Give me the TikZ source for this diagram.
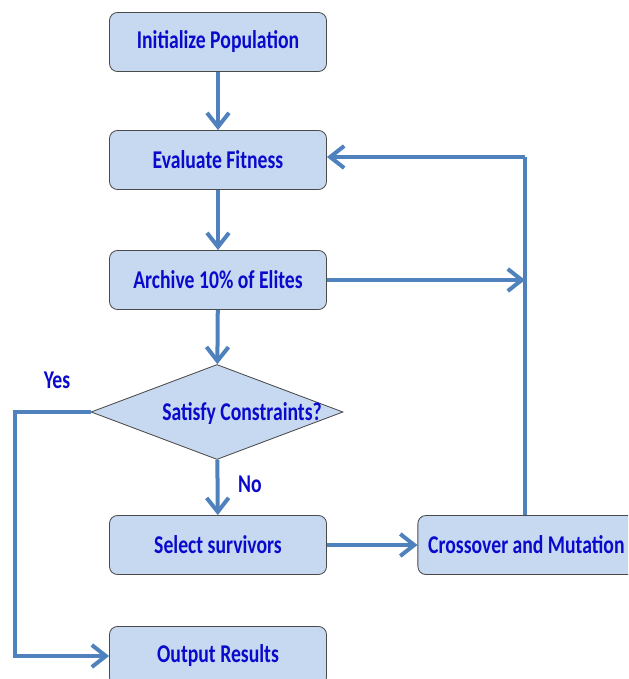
\documentclass[tikz,border=0pt]{standalone}
\usepackage{fontspec}
\setmainfont{Carlito}
\usepackage{graphicx}
\usepackage{tikz}
\usetikzlibrary{arrows.meta,shapes.geometric}
\definecolor{boxfill}{HTML}{C6D9F1}
\definecolor{boxline}{HTML}{4A4A4A}
\definecolor{flowblue}{HTML}{4F81BD}
\definecolor{txtblue}{HTML}{0A0ACC}
\def\tall#1{\scalebox{1}[1.3]{#1}}

\tikzset{
	stepbox/.style={draw=boxline, fill=boxfill, rounded corners=0.2cm, line width=0.6pt,
		minimum width=5.425cm, minimum height=1.475cm, inner sep=0pt,
		text=txtblue, font=\fontsize{14}{16}\selectfont\bfseries},
	decide/.style={draw=boxline, fill=boxfill, shape=diamond, line width=0.6pt, inner sep=0pt,
		minimum width=6.3cm, minimum height=2.375cm},
	flowtag/.style={text=txtblue, font=\fontsize{14}{16}\selectfont\bfseries},
	flow/.style={draw=flowblue, line width=0.1cm,
		-{Straight Barb[length=3.5mm,width=5.5mm]}},
	flowline/.style={draw=flowblue, line width=0.1cm}
}

\begin{document}
\begin{tikzpicture}
			%%%%% START %%%%%
			\useasboundingbox (0, 0) rectangle (15.7, -16.975);
			\clip (0, 0) rectangle (15.7, -16.975);
			
			\node[stepbox] (init) at (5.45, -1.05) {\tall{Initialize Population}};
			\node[stepbox] (eval) at (5.45, -4.0) {\tall{Evaluate Fitness}};
			\node[stepbox] (arch) at (5.45, -7.0) {\tall{Archive 10\% of Elites}};
			\node[decide] (sat) at (5.425, -10.3) {};
			\node[flowtag] (sattext) at (6.05, -10.33) {\tall{Satisfy Constraints?}};
			\node[stepbox] (sel) at (5.45, -13.625) {\tall{Select survivors}};
			\node[stepbox] (out) at (5.45, -16.4) {\tall{Output Results}};
			\node[stepbox] (cross) at (13.16, -13.625) {\tall{Crossover and Mutation}};
			
			\node[flowtag] (yes) at (1.425, -9.5) {\tall{Yes}};
			\node[flowtag] (no) at (6.25, -12.1) {\tall{No}};
			
			\draw[flow] (init) -- (eval);
			\draw[flow] (eval) -- (arch);
			\draw[flow] (arch) -- (sat);
			\draw[flow] (sat) -- (sel);
			\draw[flow] (sel) -- (cross);
			\draw[flow] (sat.west) -- ++(-1.9, 0) |- (out.west);
			
			\coordinate (turn) at (13.125, -3.925);
			\draw[flowline] (cross.north -| turn) -- (turn);
			\draw[flow] (turn) -- (turn -| eval.east);
			\draw[flow] (arch.east) -- (arch.east -| turn);
			
			%%%%% END %%%%%
		\end{tikzpicture}
\end{document}
